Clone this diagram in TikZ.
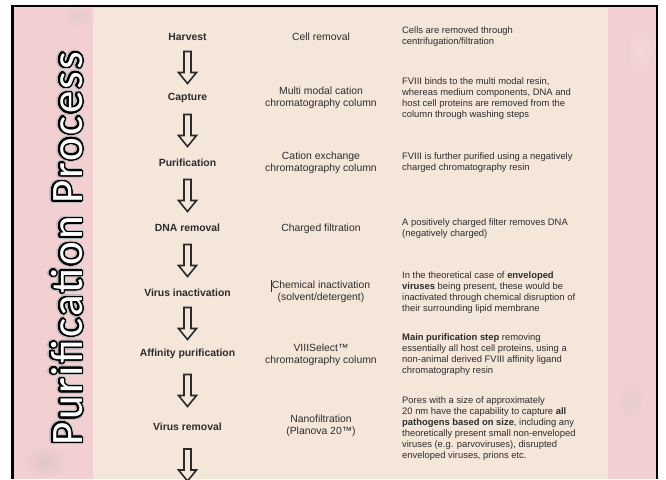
\documentclass[tikz,border=0pt]{standalone}
\usepackage{fontspec}
\setmainfont{Liberation Sans}
\newfontfamily\titlefont[LetterSpace=5]{Carlito}
\usepackage{contour}
\usetikzlibrary{calc}
\definecolor{pinkbg}{HTML}{F2CFD0}
\definecolor{creambg}{HTML}{F5E6DA}
\definecolor{txt}{HTML}{2C2C2C}
\definecolor{arrowline}{HTML}{2A2A2A}
\tikzset{
  stepname/.style={font=\fontsize{10.4}{12}\selectfont\bfseries, text=txt, inner sep=0pt},
  method/.style={font=\fontsize{10.4}{12}\selectfont, text=txt, align=center, inner sep=0pt},
  desc/.style={font=\fontsize{9.4}{11}\selectfont, text=txt, align=left, anchor=west, inner sep=0pt},
  blockarrow/.style={draw=arrowline, line width=1.6pt, fill=creambg, line join=miter},
  blob/.style={opacity=0.35},
}
\newcommand\flowarrow[2]{%
  \coordinate (m) at ($(#1.center)!0.5!(#2.center)$);
  \draw[blockarrow] ([shift={(-3.5pt,16pt)}]m) -- ([shift={(-3.5pt,-5pt)}]m)
    -- ([shift={(-9pt,-5pt)}]m) -- ([shift={(0pt,-16pt)}]m)
    -- ([shift={(9pt,-5pt)}]m) -- ([shift={(3.5pt,-5pt)}]m)
    -- ([shift={(3.5pt,16pt)}]m) -- cycle;}
\begin{document}
\begin{tikzpicture}[x=1pt,y=-1pt]
\useasboundingbox (0,0) rectangle (666,479);
\fill[white] (0,0) rectangle (666,479);
% backgrounds
\fill[pinkbg] (12.5,6) rectangle (657,479);
\shade[blob, inner color=gray!45, outer color=pinkbg] (78,16) ellipse (14 and 12);
\shade[blob, inner color=gray!55, outer color=pinkbg] (45,462) ellipse (22 and 16);
\shade[blob, inner color=pinkbg!40!white, outer color=pinkbg] (640,50) ellipse (14 and 28);
\shade[blob, inner color=gray!40, outer color=pinkbg] (630,400) ellipse (12 and 22);
\fill[creambg] (93,7.5) rectangle (608,479);
% frame
\draw[black, line width=2.2pt] (12.5,479) -- (12.5,6) -- (657,6) -- (657,479);

% title
\node[rotate=90, font=\titlefont\fontsize{45}{50}\selectfont] (title) at (67.5,248.5)
  {\contourlength{2.6pt}\contournumber{32}\contour{gray!55}{\textcolor{white}{Purification Process}}};
\node[rotate=90, font=\titlefont\fontsize{45}{50}\selectfont] (titlefg) at (67.5,248.5)
  {\contourlength{1.5pt}\contournumber{32}\contour{black}{\textcolor{white}{Purification Process}}};

% column 1: steps
\node[stepname] (s1) at (187.5,37)  {Harvest};
\node[stepname] (s2) at (187.5,98)  {Capture};
\node[stepname] (s3) at (187.5,163) {Purification};
\node[stepname] (s4) at (187.5,228) {DNA removal};
\node[stepname] (s5) at (187.5,293) {Virus inactivation};
\node[stepname] (s6) at (187.5,354) {Affinity purification};
\node[stepname] (s7) at (187.5,427) {Virus removal};
\coordinate (s8) at (187.5,503);

% column 2: methods
\node[method] (m1) at (321,37)  {Cell removal};
\node[method] (m2) at (321,98)  {Multi modal cation\\chromatography column};
\node[method] (m3) at (321,163) {Cation exchange\\chromatography column};
\node[method] (m4) at (321,229) {Charged filtration};
\node[method] (m5) at (321,292) {Chemical inactivation\\(solvent/detergent)};
\node[method] (m6) at (321,355) {VIIISelect™\\chromatography column};
\node[method] (m7) at (321,426) {Nanofiltration\\(Planova 20™)};
\draw[txt, line width=0.5pt] ([xshift=-0.8pt,yshift=1pt]m5.north west) -- ([xshift=-0.8pt,yshift=-11pt]m5.north west);

% column 3: descriptions
\node[desc] (d1) at (402,37)  {Cells are removed through\\centrifugation/filtration};
\node[desc] (d2) at (402,98.5)  {FVIII binds to the multi modal resin,\\whereas medium components, DNA and\\host cell proteins are removed from the\\column through washing steps};
\node[desc] (d3) at (402,163) {FVIII is further purified using a negatively\\charged chromatography resin};
\node[desc] (d4) at (402,229) {A positively charged filter removes DNA\\(negatively charged)};
\node[desc] (d5) at (402,292.5) {In the theoretical case of \textbf{enveloped}\\\textbf{viruses} being present, these would be\\inactivated through chemical disruption of\\their surrounding lipid membrane};
\node[desc] (d6) at (402,355) {\textbf{Main purification step} removing\\essentially all host cell proteins, using a\\non-animal derived FVIII affinity ligand\\chromatography resin};
\node[desc] (d7) at (402,428.5) {Pores with a size of approximately\\20 nm have the capability to capture \textbf{all}\\\textbf{pathogens based on size}, including any\\theoretically present small non-enveloped\\viruses (e.g. parvoviruses), disrupted\\enveloped viruses, prions etc.};

% arrows
\flowarrow{s1}{s2}
\flowarrow{s2}{s3}
\flowarrow{s3}{s4}
\flowarrow{s4}{s5}
\flowarrow{s5}{s6}
\flowarrow{s6}{s7}
\flowarrow{s7}{s8}
\end{tikzpicture}
\end{document}
